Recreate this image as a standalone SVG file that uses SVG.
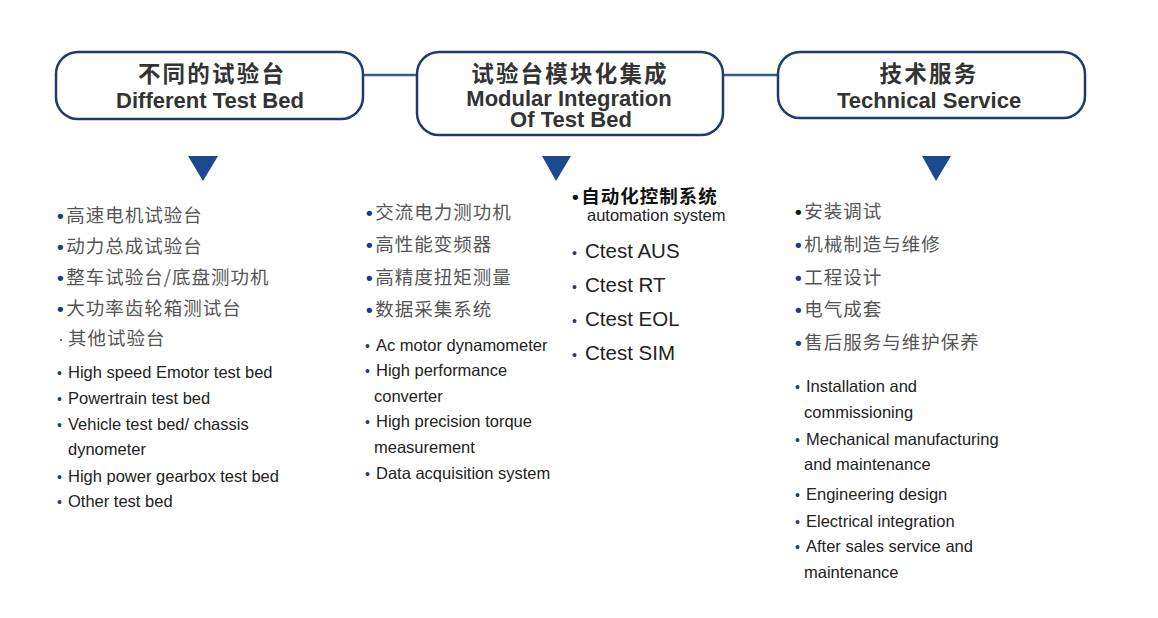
<svg xmlns="http://www.w3.org/2000/svg" width="1158" height="618" viewBox="0 0 1158 618">
<defs>
<style>
.box{fill:#fff;stroke:#1f3b6b;stroke-width:2.5}
.conn{stroke:#3a5a92;stroke-width:2.5;fill:none}
.tri{fill:#1d4a8e}
.tzh{font-family:"Noto Sans CJK SC",sans-serif;font-weight:700;font-size:22.5px;letter-spacing:2.2px;fill:#333;text-anchor:middle}
.ten{font-family:"Liberation Sans",Arial,sans-serif;font-weight:700;font-size:22px;fill:#333;text-anchor:middle}
.zh{font-family:"Noto Sans CJK SC",sans-serif;font-size:18.5px;letter-spacing:1px;fill:#555}
.zhb{font-family:"Noto Sans CJK SC",sans-serif;font-weight:700;font-size:18.5px;letter-spacing:1px;fill:#111}
.en{font-family:"Liberation Sans",Arial,sans-serif;font-size:16.5px;fill:#222}
.ct{font-family:"Liberation Sans",Arial,sans-serif;font-size:20.5px;fill:#222}
.b{font-family:"Liberation Sans",Arial,sans-serif;font-size:14px;fill:#1f3d7a}
.bz{font-family:"Liberation Sans",Arial,sans-serif;font-size:19px;font-weight:700;letter-spacing:2.5px;fill:#1f3d7a}
</style>
</defs>
<rect width="1158" height="618" fill="#fff"/>
<g id="connectors">
<line class="conn" x1="363" y1="75" x2="417" y2="75"/>
<line class="conn" x1="723" y1="75" x2="778" y2="75"/>
<polygon class="tri" points="188,156 218,156 203,181"/>
<polygon class="tri" points="542,156 571,156 556,181"/>
<polygon class="tri" points="922,156 951,156 936,181"/>
</g>
<g id="node-test-bed">
<rect class="box" x="56" y="52" width="307" height="67" rx="22"/>
<text class="tzh" x="212" y="82">不同的试验台</text>
<text class="ten" x="210" y="108">Different Test Bed</text>
</g>
<g id="node-modular">
<rect class="box" x="417" y="52" width="306" height="83" rx="22"/>
<text class="tzh" x="570" y="82">试验台模块化集成</text>
<text class="ten" x="569" y="106">Modular Integration</text>
<text class="ten" x="571" y="127">Of Test Bed</text>
</g>
<g id="node-service">
<rect class="box" x="778" y="52" width="307" height="66" rx="22"/>
<text class="tzh" x="929" y="82">技术服务</text>
<text class="ten" x="929" y="108">Technical Service</text>
</g>
<g id="list-test-bed">
<text class="zh" x="57" y="222"><tspan class="bz">•</tspan>高速电机试验台</text>
<text class="zh" x="57" y="253"><tspan class="bz">•</tspan>动力总成试验台</text>
<text class="zh" x="57" y="284"><tspan class="bz">•</tspan>整车试验台/底盘测功机</text>
<text class="zh" x="57" y="315"><tspan class="bz">•</tspan>大功率齿轮箱测试台</text>
<text class="zh" x="58" y="345"><tspan style="font-family:'Liberation Sans',Arial,sans-serif;font-size:18px;fill:#555;letter-spacing:4px">·</tspan>其他试验台</text>
<text class="en" x="57" y="378"><tspan class="b">•</tspan><tspan x="68">High speed Emotor test bed</tspan></text>
<text class="en" x="57" y="404"><tspan class="b">•</tspan><tspan x="68">Powertrain test bed</tspan></text>
<text class="en" x="57" y="430"><tspan class="b">•</tspan><tspan x="68">Vehicle test bed/ chassis</tspan></text>
<text class="en" x="68" y="455">dynometer</text>
<text class="en" x="57" y="482"><tspan class="b">•</tspan><tspan x="68">High power gearbox test bed</tspan></text>
<text class="en" x="57" y="507"><tspan class="b">•</tspan><tspan x="68">Other test bed</tspan></text>
</g>
<g id="list-modular">
<text class="zh" x="366" y="219"><tspan class="bz">•</tspan>交流电力测功机</text>
<text class="zh" x="366" y="251"><tspan class="bz">•</tspan>高性能变频器</text>
<text class="zh" x="366" y="284"><tspan class="bz">•</tspan>高精度扭矩测量</text>
<text class="zh" x="366" y="316"><tspan class="bz">•</tspan>数据采集系统</text>
<text class="en" x="365" y="351"><tspan class="b">•</tspan><tspan x="376">Ac motor dynamometer</tspan></text>
<text class="en" x="365" y="376"><tspan class="b">•</tspan><tspan x="376">High performance</tspan></text>
<text class="en" x="374" y="402">converter</text>
<text class="en" x="365" y="427"><tspan class="b">•</tspan><tspan x="376">High precision torque</tspan></text>
<text class="en" x="374" y="453">measurement</text>
<text class="en" x="365" y="479"><tspan class="b">•</tspan><tspan x="376">Data acquisition system</tspan></text>
</g>
<g id="list-automation">
<text class="zhb" x="572" y="203"><tspan class="bz" style="fill:#111">•</tspan>自动化控制系统</text>
<text class="en" x="587" y="221">automation system</text>
<text class="ct" x="572" y="258"><tspan class="b">•</tspan><tspan x="585">Ctest AUS</tspan></text>
<text class="ct" x="572" y="292"><tspan class="b">•</tspan><tspan x="585">Ctest RT</tspan></text>
<text class="ct" x="572" y="326"><tspan class="b">•</tspan><tspan x="585">Ctest EOL</tspan></text>
<text class="ct" x="572" y="360"><tspan class="b">•</tspan><tspan x="585">Ctest SIM</tspan></text>
</g>
<g id="list-service">
<text class="zh" x="795" y="218"><tspan class="bz" style="fill:#111">•</tspan>安装调试</text>
<text class="zh" x="795" y="251"><tspan class="bz">•</tspan>机械制造与维修</text>
<text class="zh" x="795" y="284"><tspan class="bz">•</tspan>工程设计</text>
<text class="zh" x="795" y="316"><tspan class="bz">•</tspan>电气成套</text>
<text class="zh" x="795" y="349"><tspan class="bz">•</tspan>售后服务与维护保养</text>
<text class="en" x="795" y="392"><tspan class="b">•</tspan><tspan x="806">Installation and</tspan></text>
<text class="en" x="804" y="418">commissioning</text>
<text class="en" x="795" y="445"><tspan class="b">•</tspan><tspan x="806">Mechanical manufacturing</tspan></text>
<text class="en" x="804" y="470">and maintenance</text>
<text class="en" x="795" y="500"><tspan class="b">•</tspan><tspan x="806">Engineering design</tspan></text>
<text class="en" x="795" y="527"><tspan class="b">•</tspan><tspan x="806">Electrical integration</tspan></text>
<text class="en" x="795" y="552"><tspan class="b">•</tspan><tspan x="806">After sales service and</tspan></text>
<text class="en" x="804" y="578">maintenance</text>
</g>
</svg>
